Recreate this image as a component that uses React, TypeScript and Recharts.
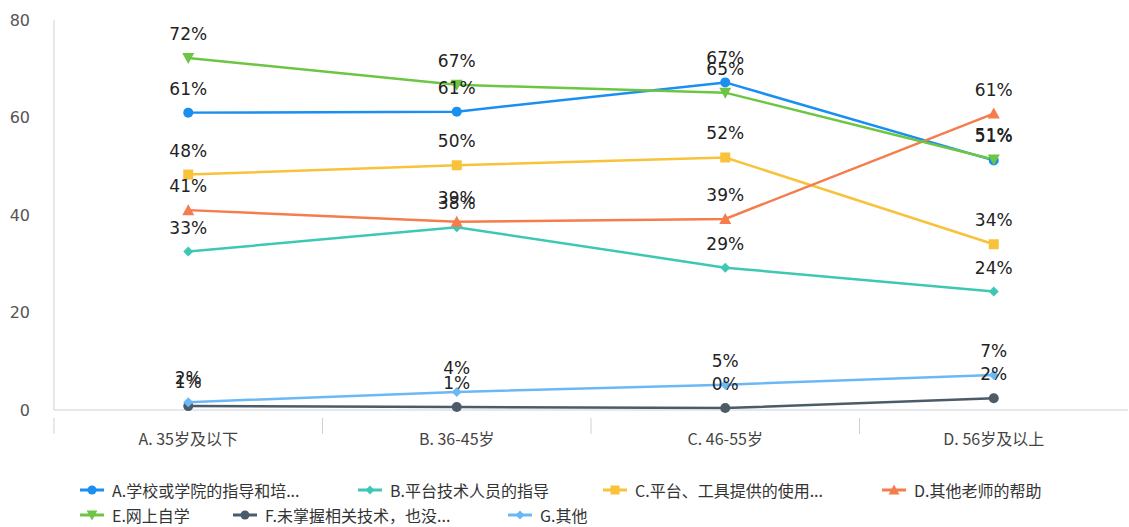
import React from "react";
import { LineChart, Line, XAxis, YAxis, LabelList, Legend } from "recharts";

const categories = ["A. 35岁及以下", "B. 36-45岁", "C. 46-55岁", "D. 56岁及以上"];
const seriesNames = [
  "A.学校或学院的指导和培...",
  "B.平台技术人员的指导",
  "C.平台、工具提供的使用...",
  "D.其他老师的帮助",
  "E.网上自学",
  "F.未掌握相关技术，也没...",
  "G.其他",
];
const seriesA = [61, 61.2, 67.2, 51.2];
const seriesB = [32.5, 37.5, 29.2, 24.3];
const seriesC = [48.3, 50.2, 51.8, 34];
const seriesD = [41, 38.6, 39.2, 60.8];
const seriesE = [72.2, 66.7, 65.1, 51.4];
const seriesF = [0.8, 0.6, 0.4, 2.4];
const seriesG = [1.6, 3.7, 5.2, 7.2];
const yTicks = [0, 20, 40, 60, 80];

const colors = ["#1a8ff0", "#3ec8b4", "#f8c33a", "#f57c4c", "#6cc644", "#4b5b68", "#6cb8f5"];
const shapes = ["circle", "diamond", "square", "triangle", "triangleDown", "circle", "diamond"];
const keys = ["a", "b", "c", "d", "e", "f", "g"];
const allSeries = [seriesA, seriesB, seriesC, seriesD, seriesE, seriesF, seriesG];

const data = categories.map((cat, i) => {
  const row: any = { cat };
  keys.forEach((k, j) => (row[k] = allSeries[j][i]));
  return row;
});

const W = 1129;
const H = 527;
const PLOT_LEFT = 54;
const PLOT_RIGHT = 1128;
const BAND = (PLOT_RIGHT - PLOT_LEFT) / categories.length;

function Marker({ cx, cy, shape, color, size = 1 }: any) {
  if (cx == null || cy == null) return null;
  const s = size;
  if (shape === "circle") return <circle cx={cx} cy={cy} r={5 * s} fill={color} />;
  if (shape === "diamond")
    return (
      <polygon
        points={`${cx},${cy - 5 * s} ${cx + 5 * s},${cy} ${cx},${cy + 5 * s} ${cx - 5 * s},${cy}`}
        fill={color}
      />
    );
  if (shape === "square")
    return <rect x={cx - 5 * s} y={cy - 5 * s} width={10 * s} height={10 * s} fill={color} />;
  if (shape === "triangle")
    return (
      <polygon
        points={`${cx},${cy - 6 * s} ${cx + 6 * s},${cy + 5 * s} ${cx - 6 * s},${cy + 5 * s}`}
        fill={color}
      />
    );
  if (shape === "triangleDown")
    return (
      <polygon
        points={`${cx},${cy + 6 * s} ${cx + 6 * s},${cy - 5 * s} ${cx - 6 * s},${cy - 5 * s}`}
        fill={color}
      />
    );
  return null;
}

function XTick(props: any) {
  const { x, y, payload } = props;
  return (
    <g>
      <line x1={x - BAND / 2} y1={y} x2={x - BAND / 2} y2={y + 16} stroke="#ccd1d9" strokeWidth={1} />
      <text
        x={x}
        y={y + 23}
        textAnchor="middle"
        dominantBaseline="middle"
        fill="#444"
        fontSize={16}
        fontFamily="'Noto Sans CJK SC', sans-serif"
      >
        {payload.value}
      </text>
    </g>
  );
}

const legendLeft = [80, 358, 603, 882, 80, 233, 508];
const legendRow = [0, 0, 0, 0, 1, 1, 1];

function LegendContent() {
  return (
    <div style={{ position: "relative", width: W, height: 49 }}>
      {seriesNames.map((name, i) => (
        <div
          key={name}
          style={{
            position: "absolute",
            left: legendLeft[i],
            top: legendRow[i] * 25,
            height: 24,
            display: "flex",
            alignItems: "center",
            whiteSpace: "nowrap",
          }}
        >
          <svg width={24} height={24} style={{ display: "block" }}>
            <line x1={0} y1={12} x2={24} y2={12} stroke={colors[i]} strokeWidth={3} />
            <Marker cx={12} cy={12} shape={shapes[i]} color={colors[i]} size={0.9} />
          </svg>
          <span
            style={{
              marginLeft: 8,
              fontSize: 16,
              color: "#333",
              fontFamily: "'Noto Sans CJK SC', sans-serif",
              lineHeight: "24px",
            }}
          >
            {name}
          </span>
        </div>
      ))}
    </div>
  );
}

export default function App() {
  return (
    <div style={{ position: "absolute", left: 0, top: 0, width: W, height: H, background: "#fff" }}>
      <LineChart width={W} height={H} data={data} margin={{ top: 20, right: W - PLOT_RIGHT, bottom: 0, left: 0 }}>
        <XAxis
          dataKey="cat"
          height={68}
          axisLine={{ stroke: "#ccd1d9" }}
          tickLine={false}
          tick={<XTick />}
          interval={0}
          padding={{ left: BAND / 2, right: BAND / 2 }}
        />
        <YAxis
          width={PLOT_LEFT}
          domain={[0, 80]}
          ticks={yTicks}
          axisLine={{ stroke: "#ccd1d9" }}
          tickLine={false}
          tickMargin={18}
          tick={{ fill: "#555", fontSize: 16, fontFamily: "'DejaVu Sans', sans-serif" }}
        />
        <Legend
          content={<LegendContent />}
          wrapperStyle={{ position: "absolute", left: 0, top: 478, width: W, height: 49 }}
        />
        {keys.map((k, i) => (
          <Line
            key={k}
            dataKey={k}
            name={seriesNames[i]}
            stroke={colors[i]}
            strokeWidth={2.5}
            isAnimationActive={false}
            dot={(p: any) => <Marker key={`${k}-${p.index}`} cx={p.cx} cy={p.cy} shape={shapes[i]} color={colors[i]} />}
            activeDot={false}
          >
            <LabelList
              dataKey={k}
              position="top"
              offset={18}
              formatter={(v: any) => `${Math.round(Number(v))}%`}
              fill="#222"
              fontSize={17}
              fontFamily="'DejaVu Sans', sans-serif"
            />
          </Line>
        ))}
      </LineChart>
    </div>
  );
}
